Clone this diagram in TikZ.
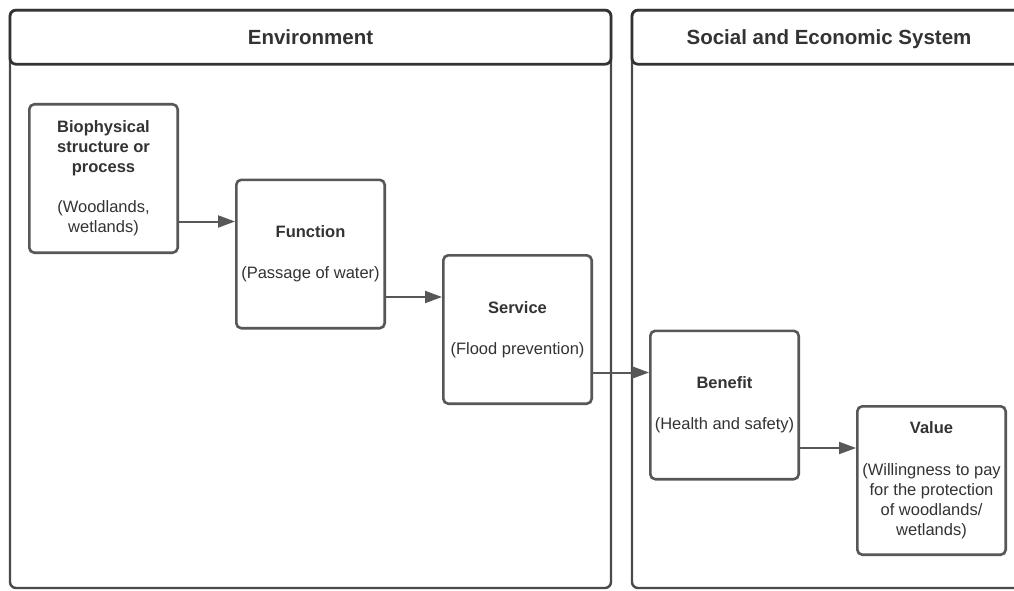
\documentclass[tikz,border=0pt]{standalone}
\usepackage{fontspec}
\setmainfont{Liberation Sans}
\usetikzlibrary{arrows.meta}
\definecolor{edge}{HTML}{575757}
\definecolor{frame}{HTML}{4A4A4A}
\definecolor{ink}{HTML}{333333}
\begin{document}
\begin{tikzpicture}[x=1pt,y=-1pt,
  stage/.style={draw=edge, line width=2.6pt, rounded corners=5pt,
    minimum width=148.4pt, minimum height=148.4pt, inner sep=0pt,
    align=center, text=ink, font=\fontsize{16.5}{20}\selectfont},
  panel/.style={draw=frame, line width=2.4pt, rounded corners=6pt,
    inner sep=0pt},
  header/.style={draw=ink, line width=2.8pt, rounded corners=6pt, fill=white,
    minimum height=54pt, inner sep=0pt, anchor=north, text=ink,
    text height=18.5pt, text depth=4pt,
    font=\fontsize{20.5}{24}\selectfont\bfseries},
  flow/.style={draw=edge, line width=2pt,
    -{Triangle[length=17pt,width=12pt]}}]

% page area
\clip (0,0) rectangle (1014,591);
\fill[white] (0,0) rectangle (1014,591);

% the two domains
\node[panel, minimum width=601pt, minimum height=578pt] (env) at (310.5,299) {};
\node[panel, minimum width=394pt, minimum height=578pt] (soc) at (829,299) {};
\node[header, minimum width=601pt] (envh) at (env.north) {Environment};
\node[header, minimum width=394pt] (soch) at (soc.north) {Social and Economic System};

% cascade stages
\node[stage] (bio) at (103.5,178.5)
  {\textbf{Biophysical}\\\textbf{structure or}\\\textbf{process}\\[20pt](Woodlands,\\wetlands)};
\node[stage] (fn) at (310.5,254)
  {\textbf{Function}\\[21pt](Passage of water)};
\node[stage] (sv) at (517.5,329.5)
  {\textbf{Service}\\[21pt](Flood prevention)};
\node[stage] (bn) at (724.5,405)
  {\textbf{Benefit}\\[21pt](Health and safety)};
\node[stage] (vl) at (931.5,480.5)
  {\textbf{Value}\\[22pt](Willingness to pay\\for the protection\\of woodlands/\\wetlands)};

% entry points of the connectors
\coordinate (fnin) at ([yshift=-43pt]fn.north west);
\coordinate (svin) at ([yshift=-43pt]sv.north west);
\coordinate (bnin) at ([yshift=-43pt]bn.north west);
\coordinate (vlin) at ([yshift=-43pt]vl.north west);

% connectors
\draw[flow] (bio.east |- fnin) -- (fnin);
\draw[flow] (fn.east |- svin) -- (svin);
\draw[flow] (sv.east |- bnin) -- (bnin);
\draw[flow] (bn.east |- vlin) -- (vlin);
\end{tikzpicture}
\end{document}
